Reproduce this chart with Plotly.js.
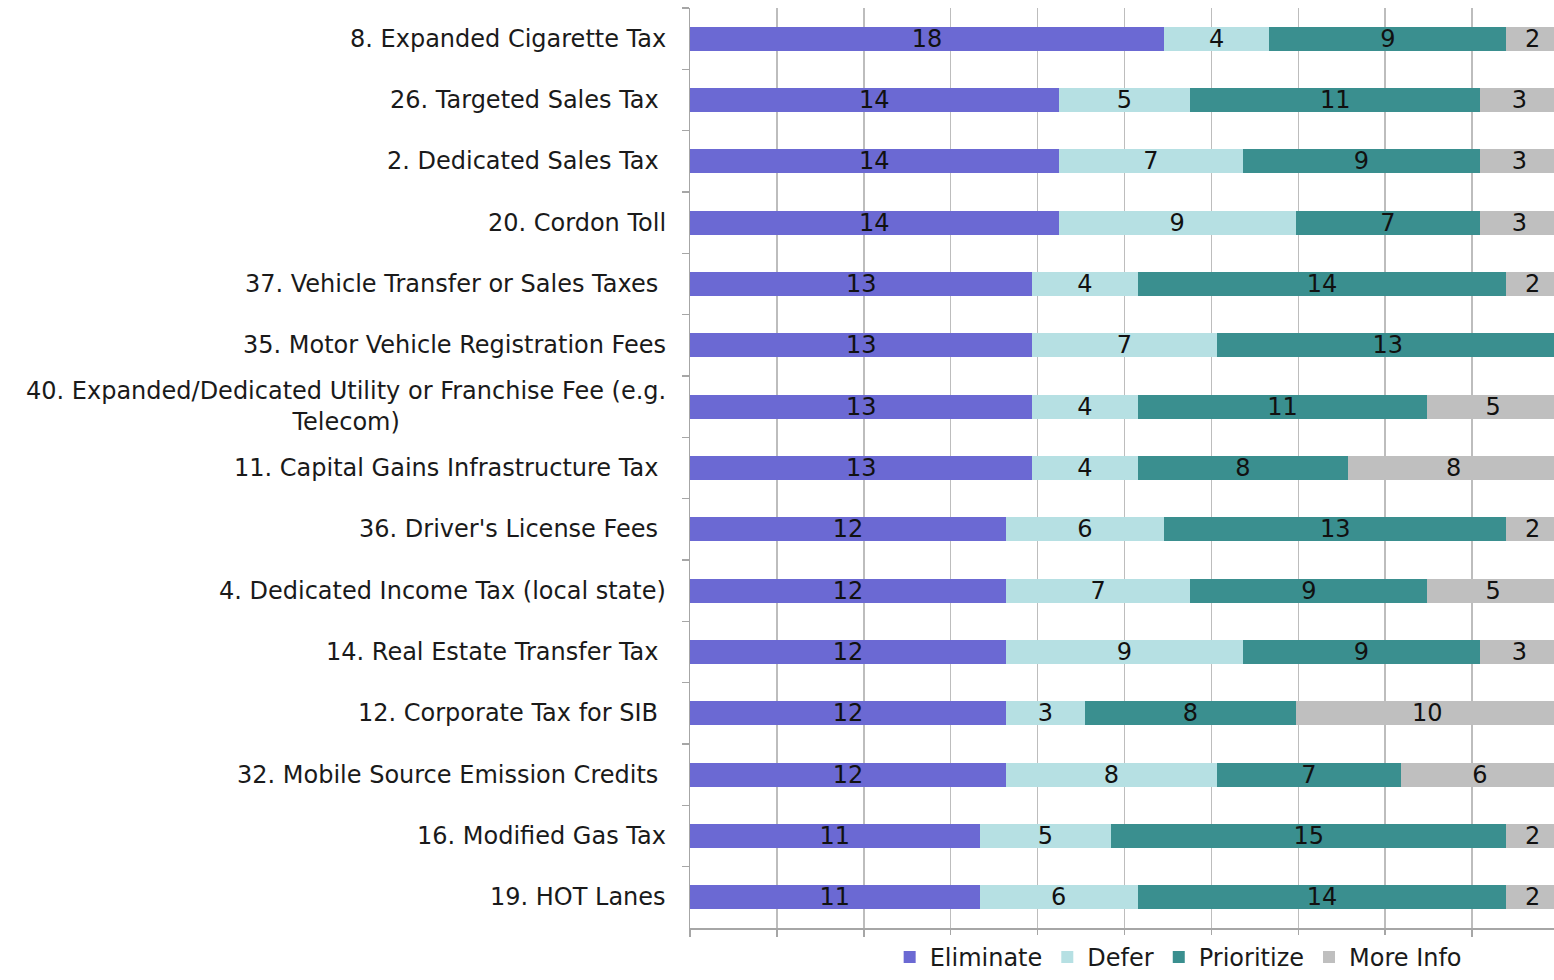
<!DOCTYPE html>
<html>
<head>
<meta charset="utf-8">
<script src="https://cdn.plot.ly/plotly-3.0.1.min.js"></script>
<style>html,body{margin:0;padding:0;background:#fff;}#chart{width:1554px;height:980px;}</style>
</head>
<body>
<div id="chart"></div>
<script>
const categories = [
  "8. Expanded Cigarette Tax",
  "26. Targeted Sales Tax\u00a0",
  "2. Dedicated Sales Tax\u00a0",
  "20. Cordon Toll",
  "37. Vehicle Transfer or Sales Taxes\u00a0",
  "35. Motor Vehicle Registration Fees",
  "40. Expanded/Dedicated Utility or Franchise Fee (e.g.<br>Telecom)",
  "11. Capital Gains Infrastructure Tax\u00a0",
  "36. Driver's License Fees\u00a0",
  "4. Dedicated Income Tax (local state)",
  "14. Real Estate Transfer Tax\u00a0",
  "12. Corporate Tax for SIB\u00a0",
  "32. Mobile Source Emission Credits\u00a0",
  "16. Modified Gas Tax",
  "19. HOT Lanes"
];
const eliminate  = [18, 14, 14, 14, 13, 13, 13, 13, 12, 12, 12, 12, 12, 11, 11];
const defer      = [ 4,  5,  7,  9,  4,  7,  4,  4,  6,  7,  9,  3,  8,  5,  6];
const prioritize = [ 9, 11,  9,  7, 14, 13, 11,  8, 13,  9,  9,  8,  7, 15, 14];
const moreInfo   = [ 2,  3,  3,  3,  2,  0,  5,  8,  2,  5,  3, 10,  6,  2,  2];

const seriesNames = ["Eliminate", "Defer", "Prioritize", "More Info"];
const seriesColors = ["#6B69D3", "#B6E0E3", "#3A8F8F", "#BFBFBF"];
const seriesValues = [eliminate, defer, prioritize, moreInfo];

const FONT = "DejaVu Sans, Verdana, sans-serif";

const traces = seriesValues.map((vals, i) => ({
  type: "bar",
  orientation: "h",
  name: seriesNames[i],
  y: categories,
  x: vals,
  text: vals.map(v => v > 0 ? String(v) : ""),
  texttemplate: "%{text}",
  textposition: "inside",
  insidetextanchor: "middle",
  textangle: 0,
  constraintext: "none",
  textfont: {family: FONT, size: 24, color: "#111"},
  marker: {color: seriesColors[i], line: {width: 0}},
  hoverinfo: "x+name"
}));

const annotations = categories.map(c => ({
  xref: "paper", yref: "y",
  x: 0, y: c,
  xanchor: "right", yanchor: "middle",
  xshift: -22,
  align: "center",
  showarrow: false,
  text: c,
  font: {family: FONT, size: 24, color: "#1a1a1a"}
}));

const layout = {
  width: 1554, height: 980,
  margin: {l: 690, r: 0, t: 8, b: 52, autoexpand: false},
  barmode: "stack",
  bargap: 0.61,
  paper_bgcolor: "#fff",
  plot_bgcolor: "#fff",
  showlegend: true,
  legend: {
    orientation: "h",
    x: 0.565, xanchor: "center",
    y: -0.0565, yanchor: "bottom",
    font: {family: FONT, size: 24, color: "#1a1a1a"},
    itemwidth: 30,
    traceorder: "normal"
  },
  xaxis: {
    range: [0, 32.81],
    tick0: 0, dtick: 3.3,
    showgrid: true, gridcolor: "#BDBDBD", gridwidth: 1.5,
    zeroline: false,
    showline: true, linecolor: "#A6A6A6", linewidth: 1.5,
    ticks: "outside", ticklen: 7, tickcolor: "#A6A6A6", tickwidth: 1.5,
    showticklabels: false,
    fixedrange: true
  },
  yaxis: {
    type: "category",
    autorange: "reversed",
    showgrid: false,
    showline: true, linecolor: "#A6A6A6", linewidth: 1.5,
    ticks: "outside", tickson: "boundaries", ticklen: 7, tickcolor: "#A6A6A6", tickwidth: 1.5,
    showticklabels: false,
    fixedrange: true
  },
  annotations: annotations
};

Plotly.newPlot("chart", traces, layout, {displayModeBar: false, staticPlot: true});
</script>
</body>
</html>
